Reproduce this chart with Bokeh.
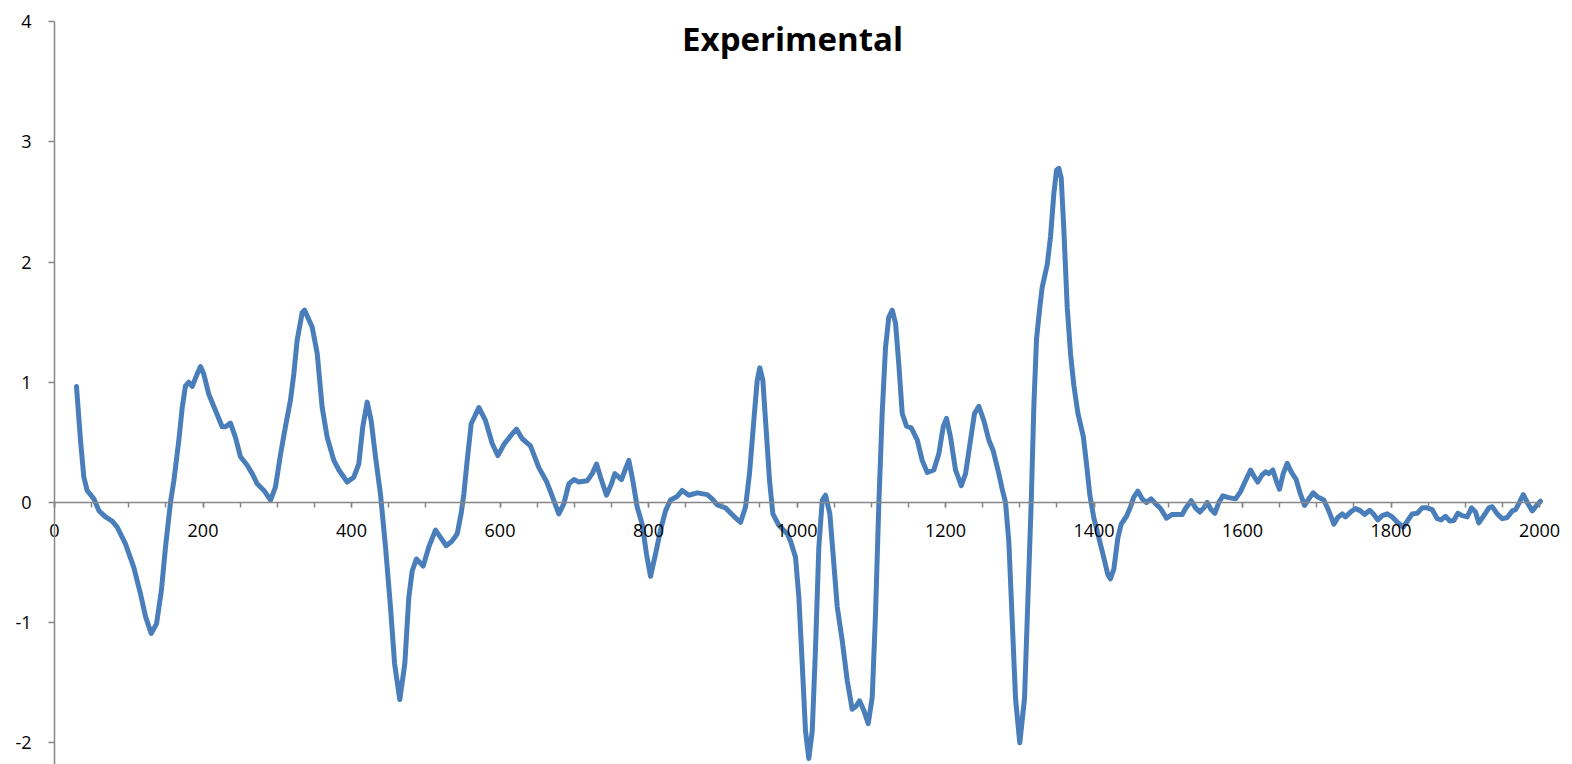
from bokeh.plotting import figure
from bokeh.models import Range1d, SingleIntervalTicker, Label, ColumnDataSource, PrintfTickFormatter
from bokeh.embed import file_html
from bokeh.resources import INLINE

# ---- data ----
x_vals = [29.6, 35, 39.5, 44, 53, 60, 68.7, 77.7, 84.4, 95.6, 106.8, 115.8, 122.6, 130.2, 137.4, 144,
          149.5, 156.2, 160.7, 167.5, 172, 176.4, 180.9, 185.4, 192.2, 196.6, 201, 207.8, 216.8, 225.8,
          230.3, 237, 243.8, 250.5, 259.5, 266.3, 273, 282, 291, 297.6, 304.4, 311, 317.8, 322.3, 326.8,
          333.6, 336.7, 347, 353.8, 360.5, 367.3, 376.2, 383, 394.2, 403.1, 409.8, 415.2, 421.1, 426.5,
          432.3, 439, 445.8, 452.5, 458, 465, 471.8, 477.2, 481.7, 487.5, 496.5, 504.1, 513.1, 519.9,
          527.5, 535.6, 542.4, 547.7, 551.3, 555.8, 561.2, 571.5, 580.5, 589.5, 597.1, 606, 616.4, 622.2,
          629.9, 641, 652.3, 663, 668, 679.2, 686, 692.7, 699.4, 706.2, 717.4, 724.2, 730, 735.4, 743.4,
          750.2, 754.6, 763.6, 769, 773.5, 778.9, 784.8, 791.5, 797.3, 802.7, 809.4, 816.2, 822.9, 829.6,
          838.6, 845.4, 854.3, 865.6, 879, 885.8, 892.5, 903.7, 914.9, 924, 930.6, 936, 941.8, 946.4,
          949.9, 954, 958.5, 963, 967.5, 975.5, 986.8, 991.2, 998, 1002.5, 1007, 1011.4, 1015.9, 1020.5,
          1025, 1029.4, 1034, 1038.4, 1044.2, 1049.6, 1054.2, 1060.9, 1067.6, 1074.3, 1078.8, 1084.2,
          1090, 1095.9, 1101.3, 1105.7, 1110.2, 1114.7, 1119.2, 1123.6, 1128.2, 1132.7, 1137.1, 1141.7,
          1147.5, 1153.8, 1161.9, 1168.6, 1175.4, 1184.2, 1191, 1196.9, 1201.3, 1206.7, 1213.5, 1221.2,
          1227, 1233.7, 1239, 1244.9, 1251.6, 1258.3, 1264.2, 1271.8, 1276, 1280.8, 1285.3, 1289.8,
          1294.3, 1300, 1306.4, 1310.9, 1315.4, 1319, 1322.6, 1327, 1330.2, 1337, 1341.4, 1345.9, 1349.5,
          1352.6, 1355.8, 1359.3, 1363.9, 1368.4, 1372.8, 1378.2, 1385.5, 1389.9, 1394.4, 1399.8, 1406.5,
          1413.2, 1418.6, 1422.2, 1426.7, 1432.1, 1436.6, 1443.8, 1449.2, 1453.6, 1459, 1464.9, 1470.7,
          1477, 1482.8, 1489.6, 1497.6, 1505.3, 1512, 1518.8, 1523.2, 1530.9, 1536.7, 1542.5, 1547.9,
          1552.4, 1557.8, 1562.7, 1568.1, 1573.5, 1581.6, 1590.6, 1597.3, 1604, 1610.8, 1616.2, 1620.6,
          1626.5, 1631, 1635.4, 1640.8, 1645.4, 1649.8, 1654.8, 1660.2, 1665.6, 1672.3, 1677.2, 1683.5,
          1689.3, 1695.2, 1701.4, 1709.5, 1716.2, 1723, 1728.9, 1734.3, 1738.7, 1745.5, 1752.2, 1758.9,
          1764.3, 1771.4, 1776.8, 1782.2, 1788.2, 1794.9, 1801.6, 1808.4, 1816.4, 1822.6, 1828.5, 1835.3,
          1842, 1848.8, 1855.5, 1862.3, 1867.6, 1873.4, 1879.3, 1884.6, 1890, 1895.9, 1902.6, 1908.4,
          1913.8, 1918.3, 1925, 1931.8, 1936.3, 1943, 1949.8, 1956.5, 1963.3, 1967.7, 1972.1, 1978.1,
          1983.4, 1990.2, 1996, 2001.3]

y_vals = [0.965, 0.52, 0.21, 0.10, 0.03, -0.07, -0.12, -0.155, -0.205, -0.345, -0.54, -0.76, -0.95, -1.09,
          -1.01, -0.73, -0.37, 0.0, 0.18, 0.52, 0.79, 0.97, 1.00, 0.965, 1.07, 1.13, 1.07, 0.90, 0.765,
          0.63, 0.63, 0.66, 0.54, 0.38, 0.31, 0.24, 0.155, 0.10, 0.02, 0.13, 0.40, 0.63, 0.85, 1.07, 1.35,
          1.58, 1.60, 1.46, 1.24, 0.79, 0.54, 0.35, 0.27, 0.17, 0.21, 0.32, 0.63, 0.835, 0.68, 0.38, 0.07,
          -0.37, -0.87, -1.34, -1.64, -1.34, -0.79, -0.57, -0.47, -0.53, -0.37, -0.23, -0.29, -0.36, -0.32,
          -0.26, -0.09, 0.07, 0.35, 0.655, 0.79, 0.68, 0.49, 0.39, 0.49, 0.57, 0.61, 0.53, 0.47, 0.29,
          0.17, 0.09, -0.095, -0.01, 0.155, 0.19, 0.17, 0.18, 0.24, 0.32, 0.21, 0.06, 0.155, 0.24, 0.19,
          0.28, 0.35, 0.18, -0.04, -0.18, -0.43, -0.615, -0.43, -0.23, -0.07, 0.02, 0.05, 0.10, 0.06, 0.08,
          0.065, 0.03, -0.02, -0.045, -0.115, -0.165, -0.04, 0.24, 0.68, 1.015, 1.12, 1.015, 0.60, 0.18,
          -0.095, -0.19, -0.26, -0.32, -0.455, -0.79, -1.34, -1.90, -2.13, -1.90, -1.20, -0.37, 0.02, 0.06,
          -0.095, -0.51, -0.87, -1.15, -1.48, -1.72, -1.70, -1.65, -1.73, -1.84, -1.62, -0.93, -0.01, 0.74,
          1.29, 1.54, 1.60, 1.49, 1.15, 0.74, 0.635, 0.62, 0.52, 0.35, 0.25, 0.27, 0.405, 0.63, 0.70, 0.545,
          0.27, 0.14, 0.24, 0.52, 0.74, 0.80, 0.68, 0.52, 0.43, 0.24, 0.12, 0.0, -0.33, -0.98, -1.63, -2.00,
          -1.63, -0.815, 0.0, 0.81, 1.365, 1.625, 1.79, 1.98, 2.21, 2.57, 2.765, 2.78, 2.70, 2.28, 1.625,
          1.235, 0.975, 0.745, 0.55, 0.32, 0.06, -0.13, -0.295, -0.46, -0.60, -0.635, -0.555, -0.295,
          -0.18, -0.115, -0.035, 0.045, 0.095, 0.03, 0.0, 0.03, -0.01, -0.05, -0.13, -0.10, -0.10, -0.10,
          -0.05, 0.015, -0.045, -0.08, -0.045, 0.0, -0.06, -0.09, 0.0, 0.055, 0.04, 0.03, 0.09, 0.18, 0.27,
          0.21, 0.17, 0.23, 0.255, 0.24, 0.27, 0.18, 0.11, 0.24, 0.325, 0.255, 0.19, 0.085, -0.025, 0.03,
          0.08, 0.045, 0.02, -0.07, -0.18, -0.12, -0.095, -0.12, -0.08, -0.05, -0.07, -0.10, -0.065, -0.10,
          -0.145, -0.11, -0.095, -0.12, -0.165, -0.205, -0.15, -0.095, -0.09, -0.045, -0.045, -0.06,
          -0.135, -0.145, -0.115, -0.155, -0.15, -0.09, -0.11, -0.12, -0.045, -0.08, -0.17, -0.11, -0.045,
          -0.035, -0.095, -0.135, -0.125, -0.07, -0.06, -0.01, 0.065, 0.0, -0.07, -0.025, 0.01]

title_text = "Experimental"
x_axis_min, x_axis_max, x_step = 0, 2000, 200
y_axis_min, y_axis_max, y_step = -2.18, 4, 1

FONT = "Open Sans"
AXIS_COLOR = "#868686"

W, H = 1572, 764
# plot frame covers the whole canvas; axes are drawn at fixed data locations
p = figure(width=W, height=H, output_backend="svg", toolbar_location=None,
           x_range=Range1d(-72.73, 2044.4), y_range=Range1d(-2.18, 4.176),
           min_border=0, min_border_left=0, min_border_right=0,
           min_border_top=0, min_border_bottom=0)
p.outline_line_color = None
p.xgrid.visible = False
p.ygrid.visible = False
p.background_fill_color = "white"
p.border_fill_color = "white"

src = ColumnDataSource(dict(x=x_vals, y=y_vals))
p.line("x", "y", source=src, line_color="#4A7EBB", line_width=5, line_join="round", line_cap="round")

# x axis crossing at y = 0
xa = p.xaxis[0]
xa.fixed_location = 0
xa.bounds = (x_axis_min, x_axis_max)
xa.ticker = SingleIntervalTicker(interval=x_step, num_minor_ticks=4)
xa.formatter = PrintfTickFormatter(format="%d")
xa.axis_line_color = AXIS_COLOR
xa.axis_line_width = 1.5
xa.major_tick_line_color = AXIS_COLOR
xa.minor_tick_line_color = AXIS_COLOR
xa.major_tick_line_width = 1.5
xa.minor_tick_line_width = 1.5
xa.major_tick_in = 0
xa.major_tick_out = 5
xa.minor_tick_in = 0
xa.minor_tick_out = 5
xa.major_label_standoff = 17
xa.major_label_text_font = FONT
xa.major_label_text_font_size = "18px"
xa.major_label_text_color = "black"

# y axis at x = 0
ya = p.yaxis[0]
ya.fixed_location = 0
ya.bounds = (y_axis_min, y_axis_max)
ya.ticker = SingleIntervalTicker(interval=y_step, num_minor_ticks=0)
ya.formatter = PrintfTickFormatter(format="%d")
ya.axis_line_color = AXIS_COLOR
ya.axis_line_width = 1.5
ya.major_tick_line_color = AXIS_COLOR
ya.major_tick_line_width = 1.5
ya.major_tick_in = 0
ya.major_tick_out = 6
ya.minor_tick_line_color = None
ya.major_label_standoff = 17
ya.major_label_text_font = FONT
ya.major_label_text_font_size = "18px"
ya.major_label_text_color = "black"

title = Label(x=994, y=3.86, text=title_text, text_align="center", text_baseline="middle",
              text_font=FONT, text_font_style="bold", text_font_size="33px", text_color="black")
p.add_layout(title)

open("out.html", "w").write(file_html(p, INLINE))
